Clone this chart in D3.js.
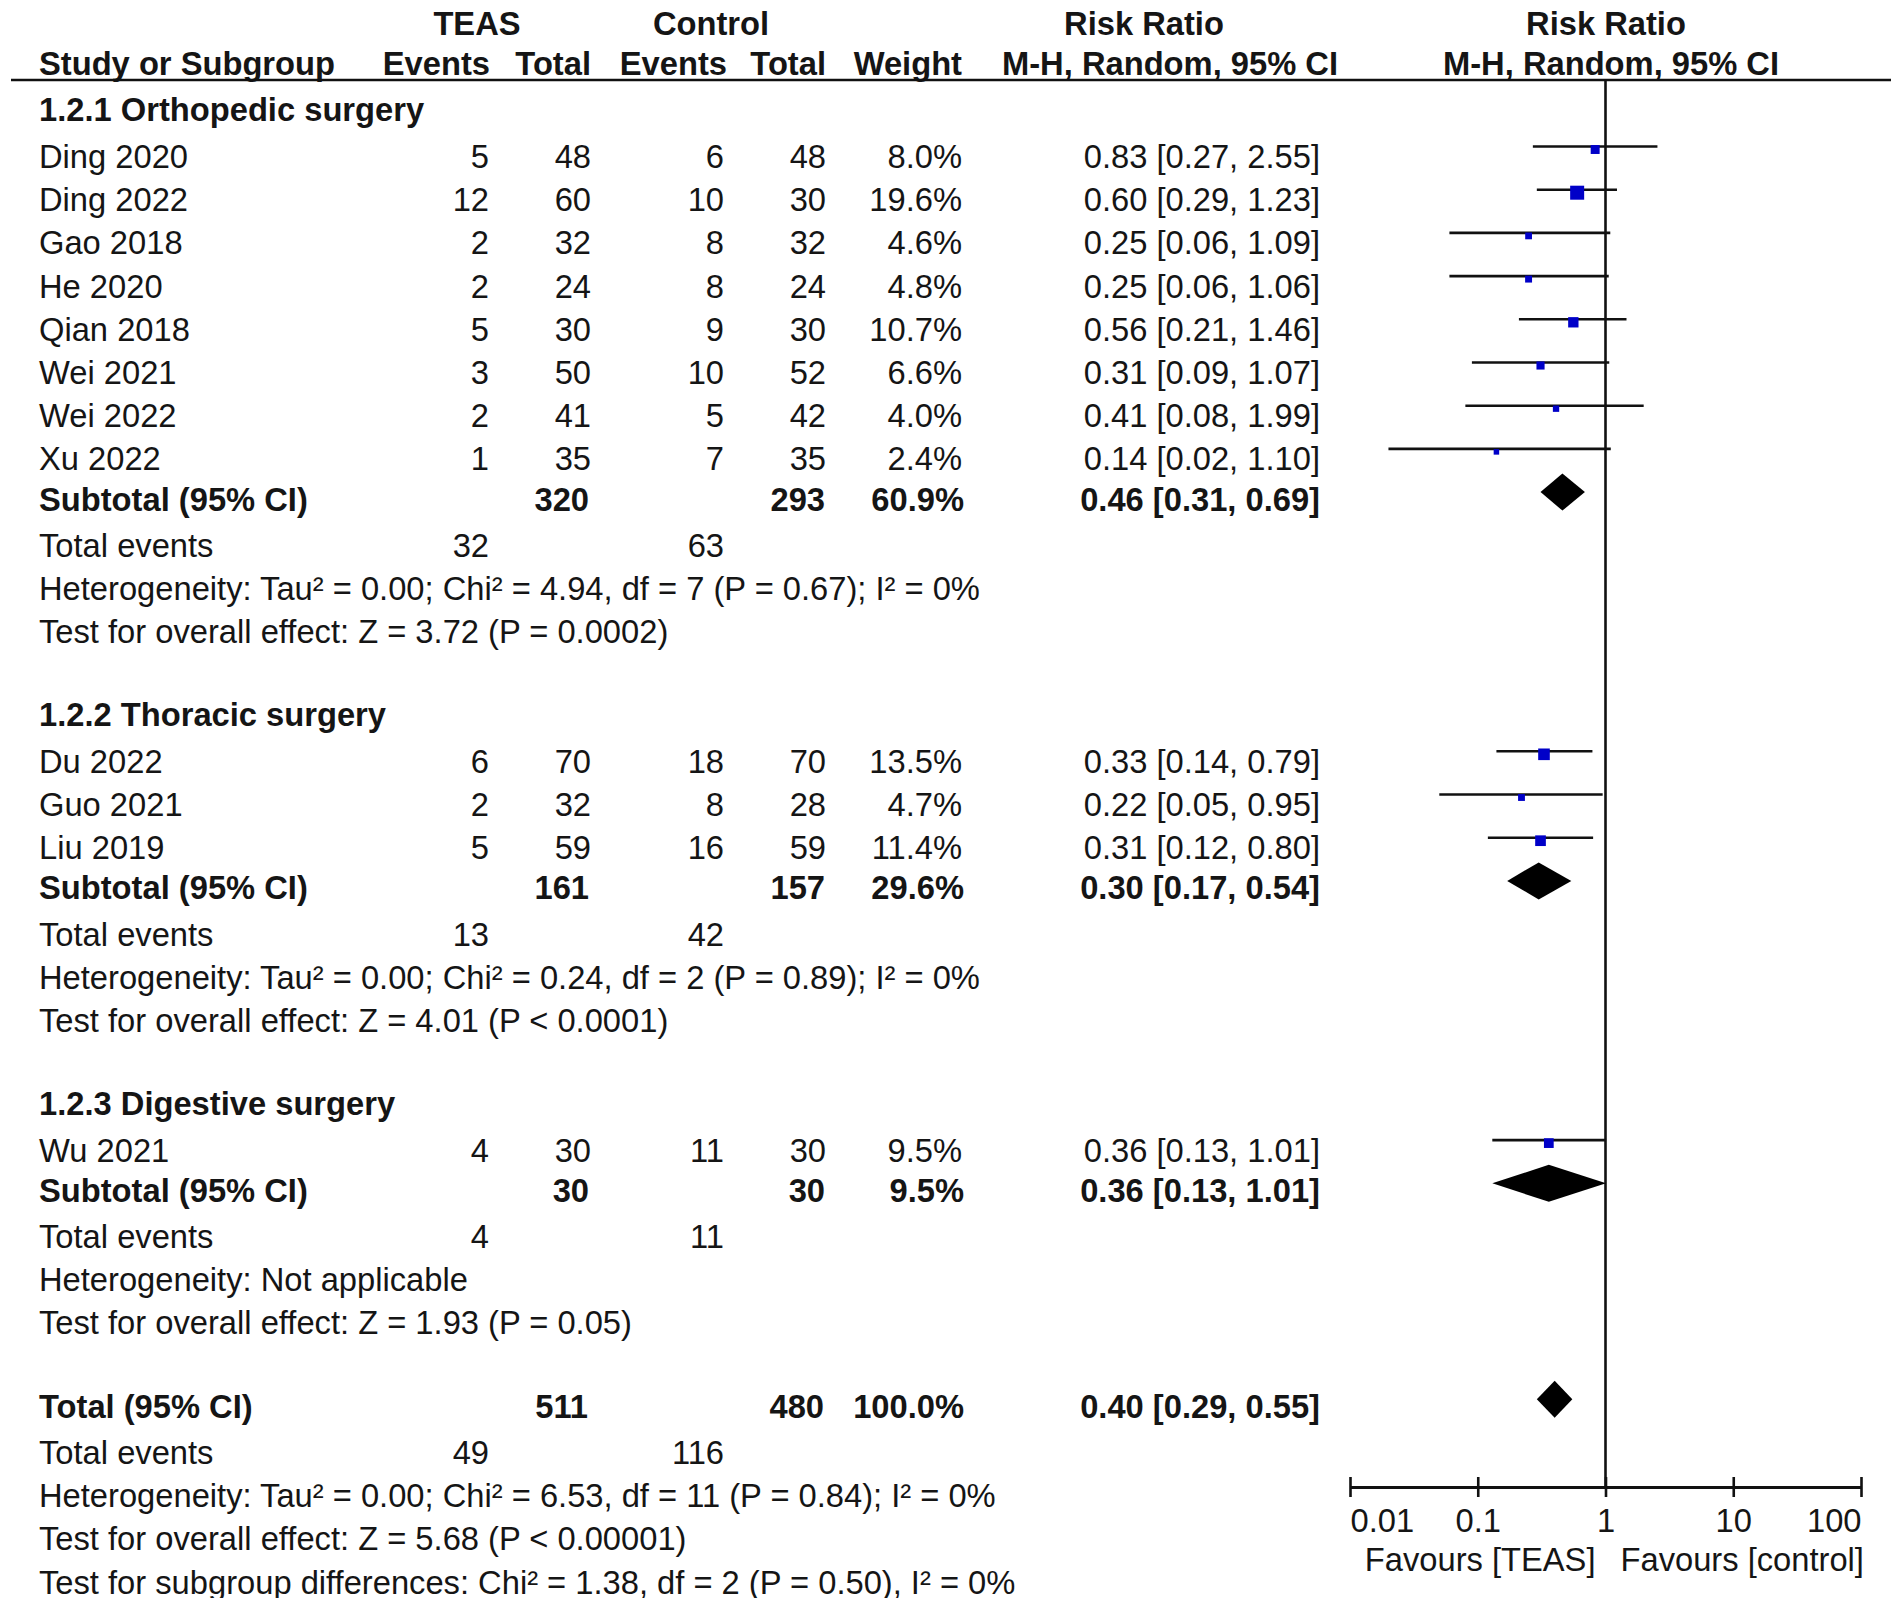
<!DOCTYPE html>
<html>
<head>
<meta charset="utf-8">
<script src="https://cdn.jsdelivr.net/npm/d3@7"></script>
<style>
  body { margin: 0; background: #fff; }
  svg text { font-family: "Liberation Sans", Arial, sans-serif; font-size: 32.7px; fill: #151515; }
  svg text.b { font-weight: bold; }
</style>
</head>
<body>
<div class="canvas"></div>
<script>
// study level data
const studies = ["Ding 2020", "Ding 2022", "Gao 2018", "He 2020", "Qian 2018", "Wei 2021", "Wei 2022", "Xu 2022",
  "Du 2022", "Guo 2021", "Liu 2019", "Wu 2021"];
const studyGroup = [0, 0, 0, 0, 0, 0, 0, 0, 1, 1, 1, 2];
const teasEvents = [5, 12, 2, 2, 5, 3, 2, 1, 6, 2, 5, 4];
const teasTotal = [48, 60, 32, 24, 30, 50, 41, 35, 70, 32, 59, 30];
const ctrlEvents = [6, 10, 8, 8, 9, 10, 5, 7, 18, 8, 16, 11];
const ctrlTotal = [48, 30, 32, 24, 30, 52, 42, 35, 70, 28, 59, 30];
const weight = [8.0, 19.6, 4.6, 4.8, 10.7, 6.6, 4.0, 2.4, 13.5, 4.7, 11.4, 9.5];
const rr = [0.83, 0.60, 0.25, 0.25, 0.56, 0.31, 0.41, 0.14, 0.33, 0.22, 0.31, 0.36];
const rrLo = [0.27, 0.29, 0.06, 0.06, 0.21, 0.09, 0.08, 0.02, 0.14, 0.05, 0.12, 0.13];
const rrHi = [2.55, 1.23, 1.09, 1.06, 1.46, 1.07, 1.99, 1.10, 0.79, 0.95, 0.80, 1.01];

// subgroup data
const groups = ["1.2.1 Orthopedic surgery", "1.2.2 Thoracic surgery", "1.2.3 Digestive surgery"];
const subTeasTotal = [320, 161, 30];
const subCtrlTotal = [293, 157, 30];
const subWeight = [60.9, 29.6, 9.5];
const subRR = [0.46, 0.30, 0.36];
const subLo = [0.31, 0.17, 0.13];
const subHi = [0.69, 0.54, 1.01];
const subTeasEvents = [32, 13, 4];
const subCtrlEvents = [63, 42, 11];
const subHet = [
  "Heterogeneity: Tau² = 0.00; Chi² = 4.94, df = 7 (P = 0.67); I² = 0%",
  "Heterogeneity: Tau² = 0.00; Chi² = 0.24, df = 2 (P = 0.89); I² = 0%",
  "Heterogeneity: Not applicable"
];
const subTest = [
  "Test for overall effect: Z = 3.72 (P = 0.0002)",
  "Test for overall effect: Z = 4.01 (P < 0.0001)",
  "Test for overall effect: Z = 1.93 (P = 0.05)"
];

// overall
const totalN = [511, 480];
const totalEvents = [49, 116];
const totalWeight = 100.0;
const totalRR = [0.40, 0.29, 0.55];
const totalNotes = [
  "Heterogeneity: Tau² = 0.00; Chi² = 6.53, df = 11 (P = 0.84); I² = 0%",
  "Test for overall effect: Z = 5.68 (P < 0.00001)",
  "Test for subgroup differences: Chi² = 1.38, df = 2 (P = 0.50), I² = 0%"
];

// axis
const tickValues = [0.01, 0.1, 1, 10, 100];
const tickLabels = ["0.01", "0.1", "1", "10", "100"];
const favours = ["Favours [TEAS]", "Favours [control]"];

const dims = { width: 1902, height: 1606 };
const col = { label: 39, tEv: 489, tTot: 591, cEv: 724, cTot: 826, wt: 962, rr: 1320 };

const svg = d3.select(".canvas").append("svg")
  .attr("width", dims.width)
  .attr("height", dims.height)
  .style("display", "block");

svg.append("rect").attr("width", dims.width).attr("height", dims.height).attr("fill", "#fff");

// the source picture is cropped just under the last line
svg.append("clipPath").attr("id", "crop")
  .append("rect").attr("width", dims.width).attr("height", 1598);

// x scale for the forest plot
const x = d3.scaleLog().domain([0.01, 100]).range([1350, 1861]);
// row index -> text baseline
const row = d3.scaleLinear().domain([0, 1]).range([168, 168 + 43.2]);
const size = d3.scaleSqrt().domain([0, 19.6]).range([0, 14]);

const fmtW = (w) => d3.format(".1f")(w) + "%";
const fmtRR = (m, lo, hi) => `${m.toFixed(2)} [${lo.toFixed(2)}, ${hi.toFixed(2)}]`;

function txt(g, xPos, yPos, s, anchor = "start", bold = false) {
  return g.append("text")
    .attr("class", bold ? "b" : null)
    .attr("text-anchor", anchor)
    .attr("x", xPos)
    .attr("y", yPos)
    .text(s);
}

const table = svg.append("g").attr("clip-path", "url(#crop)");
const plot = svg.append("g");

// header
txt(table, 477, 35, "TEAS", "middle", true);
txt(table, 711, 35, "Control", "middle", true);
txt(table, 1144, 35, "Risk Ratio", "middle", true);
txt(table, 1606, 35, "Risk Ratio", "middle", true);
txt(table, col.label, 75, "Study or Subgroup", "start", true);
txt(table, col.tEv + 1, 75, "Events", "end", true);
txt(table, col.tTot, 75, "Total", "end", true);
txt(table, col.cEv + 3, 75, "Events", "end", true);
txt(table, col.cTot, 75, "Total", "end", true);
txt(table, col.wt, 75, "Weight", "end", true);
txt(table, 1170, 75, "M-H, Random, 95% CI", "middle", true);
txt(table, 1611, 75, "M-H, Random, 95% CI", "middle", true);

table.append("line")
  .attr("x1", 11).attr("x2", 1891).attr("y1", 80).attr("y2", 80)
  .attr("stroke", "#111").attr("stroke-width", 2.5);

// vertical line of no effect
plot.append("line")
  .attr("x1", x(1)).attr("x2", x(1)).attr("y1", 80).attr("y2", 1487)
  .attr("stroke", "#111").attr("stroke-width", 2.6);

const diamond = (m, lo, hi, cy) =>
  `M${x(lo)},${cy} L${x(m)},${cy - 18.5} L${x(hi)},${cy} L${x(m)},${cy + 18.5} Z`;

let idx = -1;
groups.forEach((name, gi) => {
  txt(table, col.label, row(idx) - 3.5, name, "start", true);
  idx++;
  studies.forEach((s, i) => {
    if (studyGroup[i] !== gi) return;
    const y = row(idx);
    txt(table, col.label, y, s);
    txt(table, col.tEv, y, teasEvents[i], "end");
    txt(table, col.tTot, y, teasTotal[i], "end");
    txt(table, col.cEv, y, ctrlEvents[i], "end");
    txt(table, col.cTot, y, ctrlTotal[i], "end");
    txt(table, col.wt, y, fmtW(weight[i]), "end");
    txt(table, col.rr, y, fmtRR(rr[i], rrLo[i], rrHi[i]), "end");

    const ly = y - 21.5;
    plot.append("line")
      .attr("x1", x(rrLo[i])).attr("x2", x(rrHi[i]))
      .attr("y1", ly).attr("y2", ly)
      .attr("stroke", "#111").attr("stroke-width", 2.6);
    const sz = Math.max(5.5, size(weight[i]));
    plot.append("rect")
      .attr("x", x(rr[i]) - sz / 2).attr("y", ly + 3 - sz / 2)
      .attr("width", sz).attr("height", sz)
      .attr("fill", "#0000c8");
    idx++;
  });

  // subtotal
  const ys = row(idx) - 3;
  txt(table, col.label, ys, "Subtotal (95% CI)", "start", true);
  txt(table, col.tTot - 2, ys, subTeasTotal[gi], "end", true);
  txt(table, col.cTot - 1, ys, subCtrlTotal[gi], "end", true);
  txt(table, col.wt + 2, ys, fmtW(subWeight[gi]), "end", true);
  txt(table, col.rr, ys, fmtRR(subRR[gi], subLo[gi], subHi[gi]), "end", true);
  plot.append("path").attr("d", diamond(subRR[gi], subLo[gi], subHi[gi], ys - 18.5)).attr("fill", "#000");
  idx++;

  txt(table, col.label, row(idx), "Total events");
  txt(table, col.tEv, row(idx), subTeasEvents[gi], "end");
  txt(table, col.cEv, row(idx), subCtrlEvents[gi], "end");
  idx++;
  txt(table, col.label, row(idx), subHet[gi]);
  idx++;
  txt(table, col.label, row(idx), subTest[gi]);
  idx += 2;
});

// overall total
const yt = row(idx) - 3;
txt(table, col.label, yt, "Total (95% CI)", "start", true);
txt(table, col.tTot - 3, yt, totalN[0], "end", true);
txt(table, col.cTot - 2, yt, totalN[1], "end", true);
txt(table, col.wt + 2, yt, fmtW(totalWeight), "end", true);
txt(table, col.rr, yt, fmtRR(totalRR[0], totalRR[1], totalRR[2]), "end", true);
plot.append("path").attr("d", diamond(totalRR[0], totalRR[1], totalRR[2], yt - 18.5)).attr("fill", "#000");
idx++;
txt(table, col.label, row(idx), "Total events");
txt(table, col.tEv, row(idx), totalEvents[0], "end");
txt(table, col.cEv, row(idx), totalEvents[1], "end");
idx++;
totalNotes.forEach((n) => {
  txt(table, col.label, row(idx), n);
  idx++;
});

// axis
const axis = d3.axisBottom(x)
  .tickValues(tickValues)
  .tickFormat((d, i) => tickLabels[i])
  .tickSizeInner(10)
  .tickSizeOuter(0);

const axisG = plot.append("g").attr("transform", "translate(0,1487)").call(axis);
axisG.attr("font-size", null).attr("font-family", null);
axisG.select(".domain").attr("stroke", "#111").attr("stroke-width", 3);
axisG.selectAll(".tick line").attr("y1", -10).attr("y2", 10).attr("stroke", "#111").attr("stroke-width", 2.6);
axisG.selectAll(".tick text")
  .attr("dy", null)
  .attr("y", 45)
  .attr("fill", null)
  .attr("text-anchor", (d, i, n) => (i === 0 ? "start" : i === n.length - 1 ? "end" : "middle"));

txt(plot, x(1) - 10, 1571, favours[0], "end");
txt(plot, x(1) + 15, 1571, favours[1], "start");
</script>
</body>
</html>
